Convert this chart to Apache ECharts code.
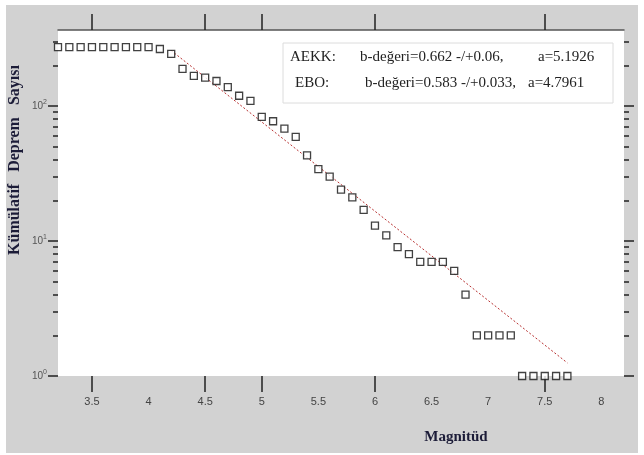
<!DOCTYPE html>
<html>
<head>
<meta charset="utf-8">
<script src="https://cdn.jsdelivr.net/npm/echarts@6/dist/echarts.min.js"></script>
<style>
  html, body { margin: 0; padding: 0; background: #fff; }
  #bg { position: absolute; left: 6px; top: 5px; width: 632px; height: 448px; background: #d2d2d2; }
  #main { position: absolute; left: 0; top: 0; width: 644px; height: 455px; }
</style>
</head>
<body>
<div id="bg"></div>
<div id="main"></div>
<script>
  // magnitude bins and cumulative counts
  var mags = [3.2, 3.3, 3.4, 3.5, 3.6, 3.7, 3.8, 3.9, 4.0, 4.1,
              4.2, 4.3, 4.4, 4.5, 4.6, 4.7, 4.8, 4.9, 5.0, 5.1,
              5.2, 5.3, 5.4, 5.5, 5.6, 5.7, 5.8, 5.9, 6.0, 6.1,
              6.2, 6.3, 6.4, 6.5, 6.6, 6.7, 6.8, 6.9, 7.0, 7.1,
              7.2, 7.3, 7.4, 7.5, 7.6, 7.7];
  var counts = [273, 273, 273, 273, 273, 273, 273, 273, 273, 264,
                243, 188, 167, 162, 153, 138, 119, 109, 83, 77,
                68, 59, 43, 34, 30, 24, 21, 17, 13, 11,
                9, 8, 7, 7, 7, 6, 4, 2, 2, 2,
                2, 1, 1, 1, 1, 1];
  // fit line end points
  var fitMags = [4.2, 7.7];
  var fitCounts = [257, 1.25];

  var xLabelValues = [3.5, 4, 4.5, 5, 5.5, 6, 6.5, 7, 7.5, 8];
  var xTickValues = [3.5, 4.5, 5, 6, 7.5];
  var yMajorValues = [1, 10, 100];
  var yMinorValues = [2, 3, 4, 5, 6, 7, 8, 9, 20, 30, 40, 50, 60, 70, 80, 90, 200, 300];

  var legendLines = [
    ['AEKK:', 'b-değeri=0.662 -/+0.06,', 'a=5.1926'],
    ['EBO:', 'b-değeri=0.583 -/+0.033,', 'a=4.7961']
  ];

  var myChart = echarts.init(document.getElementById('main'));

  var scatterData = mags.map(function (m, i) { return [m, counts[i]]; });
  var fitData = fitMags.map(function (m, i) { return [m, fitCounts[i]]; });

  function yAxisOf(pos, values, len, withLabels) {
    return {
      type: 'log',
      logBase: 10,
      position: pos,
      min: 1,
      max: 365,
      axisLine: { show: false },
      splitLine: { show: false },
      axisTick: {
        show: true,
        inside: false,
        length: len,
        customValues: values,
        lineStyle: { color: '#222', width: 1.5 }
      },
      axisLabel: withLabels ? {
        show: true,
        margin: 11,
        customValues: yMajorValues,
        color: '#555',
        fontFamily: 'Liberation Sans Narrow, Liberation Sans, sans-serif',
        fontSize: 10,
        formatter: function (v) {
          return '10{sup|' + Math.round(Math.log10(v)) + '}';
        },
        rich: {
          sup: { fontSize: 7, color: '#555', padding: [0, 0, 7, 0] }
        }
      } : { show: false }
    };
  }

  var xTickStyle = {
    show: true,
    inside: false,
    length: 16,
    customValues: xTickValues,
    lineStyle: { color: '#222', width: 1.5 }
  };

  // legend box texts
  var legendFont = '15px "Liberation Serif", "DejaVu Serif", serif';
  var legendX = [[290, 360, 538], [295, 365, 528]];
  var legendGraphics = [];
  legendLines.forEach(function (row, i) {
    row.forEach(function (txt, j) {
      legendGraphics.push({
        type: 'text',
        x: legendX[i][j],
        y: 57 + i * 26,
        z: 10,
        style: { text: txt, font: legendFont, fill: '#222', verticalAlign: 'middle' }
      });
    });
  });

  var option = {
    backgroundColor: 'transparent',
    animation: false,
    grid: {
      left: 58, right: 20, top: 30, bottom: 79,
      show: true,
      backgroundColor: '#fff',
      borderWidth: 0
    },
    xAxis: [
      {
        type: 'value',
        position: 'bottom',
        min: 3.2,
        max: 8.2,
        axisLine: { show: false },
        splitLine: { show: false },
        axisTick: xTickStyle,
        axisLabel: {
          margin: 20,
          customValues: xLabelValues,
          color: '#444',
          fontFamily: 'Liberation Sans Narrow, Liberation Sans, sans-serif',
          fontSize: 11
        }
      },
      {
        type: 'value',
        position: 'top',
        min: 3.2,
        max: 8.2,
        axisLine: { show: true, lineStyle: { color: '#555', width: 1.5 } },
        splitLine: { show: false },
        axisTick: xTickStyle,
        axisLabel: { show: false }
      }
    ],
    yAxis: [
      yAxisOf('left', yMajorValues, 10, true),
      yAxisOf('left', yMinorValues, 5, false),
      yAxisOf('right', yMajorValues, 10, false),
      yAxisOf('right', yMinorValues, 5, false)
    ],
    series: [
      {
        name: 'fit',
        type: 'line',
        data: fitData,
        symbol: 'none',
        lineStyle: { color: '#b83232', width: 1, type: [2, 2] },
        z: 2
      },
      {
        name: 'counts',
        type: 'scatter',
        data: scatterData,
        symbol: 'rect',
        symbolSize: 7,
        clip: false,
        itemStyle: { color: '#fff', borderColor: '#111', borderWidth: 1.3 },
        z: 3
      }
    ],
    graphic: [
      {
        type: 'rect',
        shape: { x: 283, y: 43, width: 330, height: 60 },
        style: { fill: '#fff', stroke: '#dcdcdc', lineWidth: 1 },
        z: 5
      },
      {
        type: 'text',
        x: 456,
        y: 437,
        style: {
          text: 'Magnitüd',
          font: 'bold 15px "Liberation Serif", "DejaVu Serif", serif',
          fill: '#1c1c38',
          align: 'center',
          verticalAlign: 'middle'
        }
      },
      {
        type: 'text',
        x: 15,
        y: 160,
        rotation: Math.PI / 2,
        style: {
          text: 'Kümülatif   Deprem   Sayısı',
          font: 'bold 16px "Liberation Serif", "DejaVu Serif", serif',
          fill: '#1c1c38',
          align: 'center',
          verticalAlign: 'middle'
        }
      }
    ].concat(legendGraphics)
  };

  myChart.setOption(option);
</script>
</body>
</html>
